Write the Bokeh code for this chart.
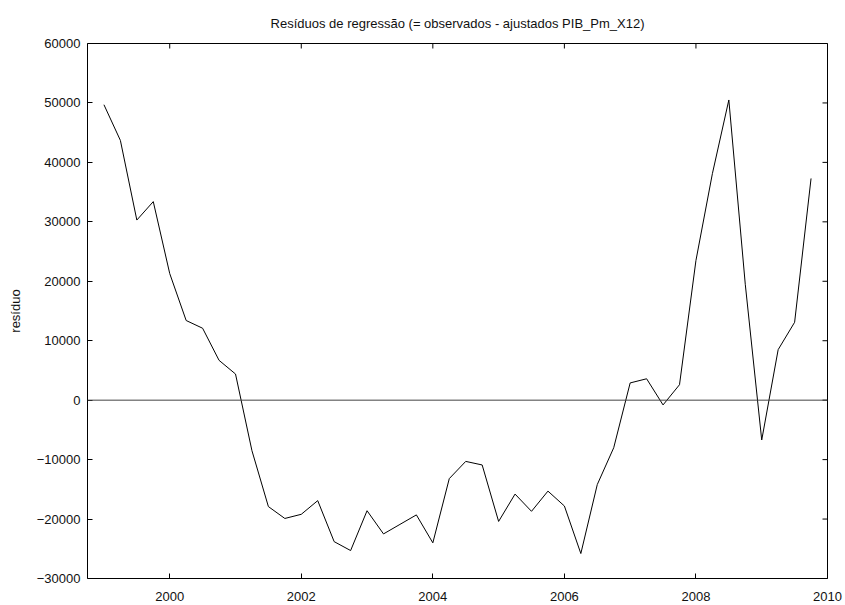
import math
from bokeh.plotting import figure
from bokeh.models import (Range1d, LinearAxis, FixedTicker, BasicTickFormatter,
                          Span, ColumnDataSource)
from bokeh.embed import file_html
from bokeh.resources import INLINE

# ---- data ----
periods = ["1999:1", "1999:2", "1999:3", "1999:4",
           "2000:1", "2000:2", "2000:3", "2000:4",
           "2001:1", "2001:2", "2001:3", "2001:4",
           "2002:1", "2002:2", "2002:3", "2002:4",
           "2003:1", "2003:2", "2003:3", "2003:4",
           "2004:1", "2004:2", "2004:3", "2004:4",
           "2005:1", "2005:2", "2005:3", "2005:4",
           "2006:1", "2006:2", "2006:3", "2006:4",
           "2007:1", "2007:2", "2007:3", "2007:4",
           "2008:1", "2008:2", "2008:3", "2008:4",
           "2009:1", "2009:2", "2009:3", "2009:4"]
residuals = [49700, 43700, 30300, 33400,
             21300, 13400, 12100, 6700,
             4400, -8500, -17900, -19900,
             -19200, -16900, -23800, -25300,
             -18600, -22500, -20900, -19300,
             -24000, -13200, -10300, -10900,
             -20400, -15800, -18700, -15300,
             -17800, -25800, -14200, -8000,
             2900, 3600, -800, 2600,
             23500, 38100, 50500, 19500,
             -6700, 8500, 13100, 37300]
x_ticks = [2000, 2002, 2004, 2006, 2008, 2010]
y_ticks = [-30000, -20000, -10000, 0, 10000, 20000, 30000, 40000, 50000, 60000]
x_min, x_max = 1998.75, 2010
y_min, y_max = -30000, 60000
title_text = "Resíduos de regressão (= observados - ajustados PIB_Pm_X12)"
y_label = "resíduo"

x_vals = [int(s.split(":")[0]) + (int(s.split(":")[1]) - 1) / 4 for s in periods]
src = ColumnDataSource(dict(x=x_vals, y=residuals))

FONT = "Liberation Sans"
TXT = "#111111"

p = figure(output_backend="svg", toolbar_location=None,
           x_range=Range1d(x_min, x_max), y_range=Range1d(y_min, y_max),
           x_axis_location=None, y_axis_location=None,
           frame_width=740, frame_height=535,
           min_border_left=87, min_border_right=18,
           min_border_top=43, min_border_bottom=27)

p.grid.visible = False
p.outline_line_color = "black"
p.outline_line_width = 1
p.background_fill_color = "white"
p.border_fill_color = "white"

p.title.text = title_text
p.title.align = "center"
p.title.text_font = FONT
p.title.text_font_size = "13px"
p.title.text_font_style = "normal"
p.title.text_color = TXT
p.title.standoff = 26

def style_axis(ax):
    ax.axis_line_color = None
    ax.major_tick_in = 5
    ax.major_tick_out = 0
    ax.minor_tick_line_color = None
    ax.major_tick_line_color = "black"
    ax.major_label_text_font = FONT
    ax.major_label_text_color = TXT
    ax.major_label_text_font_size = "13px"

xb = LinearAxis(ticker=FixedTicker(ticks=x_ticks))
style_axis(xb)
xb.major_label_standoff = 13
p.add_layout(xb, "below")

yl = LinearAxis(ticker=FixedTicker(ticks=y_ticks),
                formatter=BasicTickFormatter(use_scientific=False))
style_axis(yl)
yl.major_label_standoff = 7
yl.axis_label = y_label
yl.axis_label_text_font = FONT
yl.axis_label_text_font_size = "13px"
yl.axis_label_text_font_style = "normal"
yl.axis_label_text_color = TXT
yl.axis_label_standoff = 11
p.add_layout(yl, "left")

# mirrored inward ticks on the top and right borders (clipped to the frame)
p.scatter(x=x_ticks, y=[y_max] * len(x_ticks), marker="dash", size=10,
          angle=math.pi / 2, line_color="black", line_width=1)
p.scatter(x=[x_max] * len(y_ticks), y=y_ticks, marker="dash", size=10,
          line_color="black", line_width=1)

p.add_layout(Span(location=0, dimension="width", line_color="#444444", line_width=1))
p.line("x", "y", source=src, line_color="black", line_width=1)

open("out.html", "w").write(file_html(p, INLINE))
